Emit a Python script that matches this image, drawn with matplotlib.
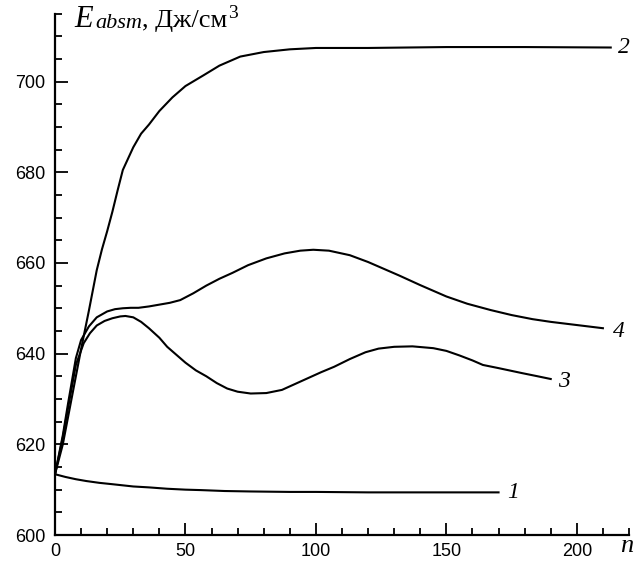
import matplotlib.pyplot as plt
from matplotlib.ticker import MultipleLocator

# curve 1
n1 = [0, 4, 8, 12, 17, 22, 30, 36, 43, 50, 56, 65, 75, 90, 100, 120, 150, 170]
e1 = [613.4, 612.8, 612.3, 611.9, 611.5, 611.2, 610.7, 610.5, 610.2, 610.0, 609.9, 609.7, 609.6, 609.5, 609.5, 609.4, 609.4, 609.4]

# curve 2
n2 = [0, 3, 5, 8, 10, 13, 16, 18, 20, 22, 24, 26, 30, 33, 36, 40, 45, 50, 57, 63, 71, 80, 90, 100, 120, 150, 180, 213]
e2 = [613.4, 620, 626, 635, 641, 649.5, 658.4, 663, 667, 671.3, 676, 680.5, 685.5, 688.5, 690.5, 693.5, 696.5, 699, 701.4, 703.5, 705.5, 706.5, 707.1, 707.4, 707.4, 707.6, 707.6, 707.5]

# curve 3
n3 = [0, 3, 5, 8, 11, 13.4, 16, 19, 22, 25, 27, 30, 33, 36, 40, 43, 47, 50, 54, 58, 62, 66, 70, 75, 81, 87, 92, 97, 102, 107, 113, 119, 124, 130, 137, 145, 150, 155, 160, 164, 170, 179, 185, 190]
e3 = [613.4, 621.5, 628, 637.5, 642.3, 644.5, 646.2, 647.2, 647.8, 648.2, 648.3, 648.0, 647.0, 645.6, 643.5, 641.5, 639.5, 638.0, 636.3, 635.0, 633.5, 632.3, 631.6, 631.2, 631.3, 632.0, 633.3, 634.6, 635.9, 637.1, 638.8, 640.3, 641.1, 641.5, 641.6, 641.2, 640.6, 639.6, 638.5, 637.5, 636.8, 635.7, 635.0, 634.4]

# curve 4
n4 = [0, 3, 5, 8, 10, 13, 16, 20, 23, 26, 29, 32, 36, 40, 44, 48, 53, 58, 63, 68, 74, 81, 88, 94, 99, 105, 113, 120, 126, 132, 140, 150, 158, 167, 175, 183, 190, 200, 210]
e4 = [613.4, 622, 629, 639, 643, 646, 648, 649.3, 649.8, 650.0, 650.1, 650.1, 650.4, 650.8, 651.2, 651.8, 653.3, 655.0, 656.5, 657.8, 659.5, 661.0, 662.1, 662.7, 662.9, 662.7, 661.7, 660.2, 658.7, 657.2, 655.1, 652.6, 651.0, 649.6, 648.5, 647.6, 647.0, 646.3, 645.6]

curves = [(n1, e1), (n2, e2), (n3, e3), (n4, e4)]
labels = ["1", "2", "3", "4"]
label_pos = [(175.5, 609.3), (218, 707.5), (195, 633.8), (216, 644.8)]

W, H = 639, 563
fig = plt.figure(figsize=(W / 100, H / 100), dpi=100)
ax = fig.add_axes([55 / W, 1 - 535 / H, 574 / W, 521.5 / H])

for n, e in curves:
    ax.plot(n, e, color="black", linewidth=1.5)

for lab, (x, y) in zip(labels, label_pos):
    ax.text(x, y, lab, family="Liberation Serif", style="italic", fontsize=17,
            ha="center", va="center")

ax.set_xlim(0, 220)
ax.set_ylim(600, 715)
ax.xaxis.set_major_locator(MultipleLocator(50))
ax.xaxis.set_minor_locator(MultipleLocator(10))
ax.yaxis.set_major_locator(MultipleLocator(20))
ax.yaxis.set_minor_locator(MultipleLocator(5))
ax.tick_params(which="both", direction="in", width=1.3, labelsize=13)
ax.tick_params(axis="x", which="both", pad=5.5)
ax.tick_params(axis="y", which="both", pad=7)
ax.tick_params(which="major", length=9)
ax.tick_params(which="minor", length=5)
for lab in ax.get_xticklabels() + ax.get_yticklabels():
    lab.set_family("Liberation Sans")

ax.spines["top"].set_visible(False)
ax.spines["right"].set_visible(False)
ax.spines["left"].set_linewidth(1.6)
ax.spines["bottom"].set_linewidth(1.6)

# axis title, pieces placed in pixels
def px_text(x, y, s, **kw):
    fig.text(x / W, 1 - y / H, s, family="Liberation Serif", va="baseline", ha="left", **kw)

px_text(74, 27, "E", style="italic", fontsize=22)
px_text(95, 28.5, "absm", style="italic", fontsize=16)
px_text(142, 27, ", Дж/см", fontsize=19)
px_text(228, 18, "3", fontsize=14)

fig.text(627 / W, 1 - 546 / H, "n", family="Liberation Serif", style="italic",
         fontsize=19, ha="center", va="center")

fig.savefig("out.png", dpi=100)
